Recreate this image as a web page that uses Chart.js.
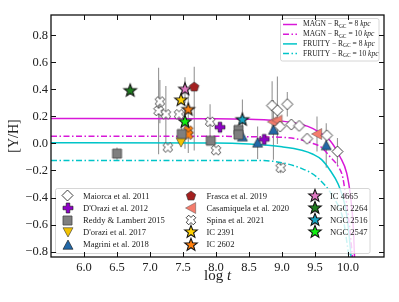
<!DOCTYPE html>
<html>
<head>
<meta charset="utf-8">
<script src="https://cdn.jsdelivr.net/npm/chart.js@4.4.1/dist/chart.umd.min.js"></script>
<style>
html, body { margin: 0; padding: 0; background: #fff; }
</style>
</head>
<body>
<canvas id="chart" width="399" height="302"></canvas>
<script>
// Axis ticks
const xTicks = [6.0, 6.5, 7.0, 7.5, 8.0, 8.5, 9.0, 9.5, 10.0];
const yTicks = [-0.8, -0.6, -0.4, -0.2, 0.0, 0.2, 0.4, 0.6, 0.8];

// Model curves: log t vs [Y/H]
const magn8LogT = [5.5, 8.0, 8.5, 9.0, 9.3, 9.47, 9.6, 9.73, 9.88, 9.98, 10.04, 10.08, 10.1];
const magn8Y = [0.185, 0.183, 0.178, 0.165, 0.14, 0.11, 0.07, 0.02, -0.10, -0.22, -0.40, -0.62, -0.86];
const magn10LogT = [5.5, 8.0, 8.5, 9.0, 9.2, 9.47, 9.6, 9.73, 9.85, 9.92, 9.98, 10.03, 10.07];
const magn10Y = [0.054, 0.053, 0.05, 0.045, 0.035, 0.0, -0.03, -0.10, -0.17, -0.25, -0.45, -0.65, -0.86];
const fruity8LogT = [5.5, 8.0, 8.5, 9.0, 9.3, 9.47, 9.6, 9.73, 9.85, 9.95, 10.0, 10.05];
const fruity8Y = [0.005, 0.003, -0.005, -0.025, -0.05, -0.08, -0.12, -0.20, -0.30, -0.45, -0.60, -0.86];
const fruity10LogT = [5.5, 8.5, 8.77, 9.02, 9.27, 9.53, 9.78, 9.93, 10.0, 10.02];
const fruity10Y = [-0.126, -0.126, -0.128, -0.145, -0.18, -0.25, -0.40, -0.57, -0.79, -0.86];

// Observations: log t, [Y/H], error (single value or [down, up])
const maiorcaLogT = [8.85, 8.93, 9.08, 8.97, 9.14, 9.26, 9.38, 9.68, 9.84];
const maiorcaY = [0.28, 0.245, 0.29, 0.125, 0.14, 0.13, 0.035, 0.06, -0.06];
const maiorcaErr = [0.18, 0.25, 0.09, 0, 0, 0, 0, 0, 0.10];

const dorazi12LogT = [8.06, 8.73];
const dorazi12Y = [0.12, 0.03];

const reddyLogT = [6.5, 7.48, 7.92, 8.34, 8.34];
const reddyY = [-0.075, 0.07, 0.02, 0.10, 0.065];
const reddyErr = [0.045, 0.06, 0, 0, 0];

const dorazi17LogT = [7.47];
const dorazi17Y = [0.01];

const magriniLogT = [8.40, 8.63, 8.87, 9.67];
const magriniY = [0.05, 0.005, 0.10, -0.015];
const magriniErr = [0, 0.12, 0.22, 0.165];

const frascaLogT = [7.67];
const frascaY = [0.417];
const frascaErr = [[0.47, 0.15]];

const casaLogT = [8.86, 8.93, 9.53];
const casaY = [0.16, 0.17, 0.07];
const casaErr = [0, 0, 0.13];

const spinaLogT = [7.15, 7.13, 7.24, 7.27, 7.44, 7.91, 8.0, 8.98];
const spinaY = [0.31, 0.24, 0.215, -0.03, 0.215, 0.16, -0.05, -0.18];
const spinaErr = [0.16, 0.32, 0.21, 0, 0, 0.13, 0, 0.04];

const ic2602xLogT = [7.58, 7.58];
const ic2602xY = [0.095, 0.065];

const ic2391LogT = [7.47];
const ic2391Y = [0.32];
const ic2602LogT = [7.58];
const ic2602Y = [0.25];
const ic2602Err = [[0.32, 0.12]];
const ic4665LogT = [7.53];
const ic4665Y = [0.40];
const ic4665Err = [[0.1, 0.09]];
const ngc2264LogT = [6.70];
const ngc2264Y = [0.39];
const ngc2264Err = [0.03];
const ngc2516LogT = [8.40];
const ngc2516Y = [0.175];
const ngc2516Err = [0.15];
const ngc2547LogT = [7.53];
const ngc2547Y = [0.16];
const ngc2547Err = [[0.2, 0.1]];

// Marker images
function shapePoints(shape, r) {
  const pts = [];
  if (shape === 'diamond') return [[0, -r], [r, 0], [0, r], [-r, 0]];
  if (shape === 'square') return [[-r, -r], [r, -r], [r, r], [-r, r]];
  if (shape === 'triUp') return [[0, -r], [r, r * 0.85], [-r, r * 0.85]];
  if (shape === 'triDown') return [[0, r], [r, -r * 0.85], [-r, -r * 0.85]];
  if (shape === 'triLeft') return [[-r, 0], [r * 0.85, -r], [r * 0.85, r]];
  if (shape === 'pentagon') {
    for (let k = 0; k < 5; k++) {
      const a = -Math.PI / 2 + k * 2 * Math.PI / 5;
      pts.push([r * Math.cos(a), r * Math.sin(a)]);
    }
    return pts;
  }
  if (shape === 'star') {
    for (let k = 0; k < 10; k++) {
      const a = -Math.PI / 2 + k * Math.PI / 5;
      const rr = k % 2 ? r * 0.42 : r;
      pts.push([rr * Math.cos(a), rr * Math.sin(a)]);
    }
    return pts;
  }
  if (shape === 'plus' || shape === 'x') {
    const a = r * 0.36;
    const base = [[-a, -r], [a, -r], [a, -a], [r, -a], [r, a], [a, a], [a, r], [-a, r], [-a, a], [-r, a], [-r, -a], [-a, -a]];
    if (shape === 'plus') return base;
    const c = Math.SQRT1_2;
    return base.map(p => [(p[0] - p[1]) * c, (p[0] + p[1]) * c]);
  }
  return pts;
}

function makeMarker(shape, r, fill, edge, lw) {
  const size = Math.ceil(2 * r + 2 * lw + 2);
  const c = document.createElement('canvas');
  c.width = size;
  c.height = size;
  const g = c.getContext('2d');
  g.translate(size / 2, size / 2);
  g.beginPath();
  shapePoints(shape, r).forEach((p, i) => i ? g.lineTo(p[0], p[1]) : g.moveTo(p[0], p[1]));
  g.closePath();
  g.fillStyle = fill;
  g.fill();
  g.lineWidth = lw;
  g.strokeStyle = edge;
  g.stroke();
  return c;
}

const pts = (xs, ys) => xs.map((x, i) => ({ x: x, y: ys[i] }));

function obs(label, xs, ys, marker, errors, inLegend) {
  return {
    type: 'scatter', label: label, data: pts(xs, ys), errors: errors || null,
    pointStyle: marker, pointRadius: 4, pointHoverRadius: 4, order: 0,
    inLegend: inLegend !== false
  };
}

function model(label, xs, ys, color, dash) {
  return {
    type: 'scatter', label: label, data: pts(xs, ys), showLine: true,
    borderColor: color, backgroundColor: color, borderWidth: 1.5, borderDash: dash,
    pointRadius: 0, cubicInterpolationMode: 'monotone', order: 10, isModel: true
  };
}

const dashDot = [6, 2.5, 1.5, 2.5];
const magColor = '#d818d8';
const cyanColor = '#00c4c8';

const datasets = [
  obs('Maiorca et al. 2011', maiorcaLogT, maiorcaY, makeMarker('diamond', 5.5, '#ffffff', '#111', 0.8), maiorcaErr),
  obs("D'Orazi et al. 2012", dorazi12LogT, dorazi12Y, makeMarker('plus', 5, '#8f00c8', '#111', 0.6)),
  obs('Reddy & Lambert 2015', reddyLogT, reddyY, makeMarker('square', 4.5, '#7f7f7f', '#444', 0.8), reddyErr),
  obs("D'orazi et al. 2017", dorazi17LogT, dorazi17Y, makeMarker('triDown', 5, '#f2c200', '#333', 0.6)),
  obs('Magrini et al. 2018', magriniLogT, magriniY, makeMarker('triUp', 5, '#2369a8', '#111', 0.6), magriniErr),
  obs('Frasca et al. 2019', frascaLogT, frascaY, makeMarker('pentagon', 5, '#a32020', '#333', 0.6), frascaErr),
  obs('Casamiquela et al. 2020', casaLogT, casaY, makeMarker('triLeft', 5.5, '#f47c6c', '#555', 0.5), casaErr),
  obs('Spina et al. 2021', spinaLogT, spinaY, makeMarker('x', 5, '#ffffff', '#111', 0.8), spinaErr),
  obs('IC 2391', ic2391LogT, ic2391Y, makeMarker('star', 6.6, '#ffd000', '#111', 1.1)),
  obs('IC 2602', ic2602LogT, ic2602Y, makeMarker('star', 6.6, '#ff7f0e', '#111', 1.1), ic2602Err),
  obs('IC 4665', ic4665LogT, ic4665Y, makeMarker('star', 6.6, '#e07ac4', '#111', 1.1), ic4665Err),
  obs('NGC 2264', ngc2264LogT, ngc2264Y, makeMarker('star', 6.6, '#1e7d1e', '#111', 1.1), ngc2264Err),
  obs('NGC 2516', ngc2516LogT, ngc2516Y, makeMarker('star', 6.6, '#17a5c4', '#111', 1.1), ngc2516Err),
  obs('NGC 2547', ngc2547LogT, ngc2547Y, makeMarker('star', 6.6, '#10f010', '#111', 1.1), ngc2547Err),
  obs('IC 2602 (Spina)', ic2602xLogT, ic2602xY, makeMarker('x', 5, '#ff7f0e', '#222', 0.7), null, false),
  model('MAGN', magn8LogT, magn8Y, magColor, []),
  model('MAGN', magn10LogT, magn10Y, magColor, dashDot),
  model('FRUITY', fruity8LogT, fruity8Y, cyanColor, []),
  model('FRUITY', fruity10LogT, fruity10Y, cyanColor, dashDot)
];
const modelRgc = ['8', '10', '8', '10'];

// Vertical error bars
const errorBars = {
  id: 'errorBars',
  beforeDatasetsDraw(chart) {
    const { ctx, chartArea: a, scales: { x, y } } = chart;
    ctx.save();
    ctx.beginPath();
    ctx.rect(a.left, a.top, a.right - a.left, a.bottom - a.top);
    ctx.clip();
    ctx.beginPath();
    ctx.strokeStyle = '#969696';
    ctx.lineWidth = 1.1;
    chart.data.datasets.forEach(ds => {
      if (!ds.errors) return;
      ds.data.forEach((p, i) => {
        const e = ds.errors[i];
        if (!e) return;
        const lo = Array.isArray(e) ? e[0] : e;
        const hi = Array.isArray(e) ? e[1] : e;
        const px = x.getPixelForValue(p.x);
        ctx.moveTo(px, y.getPixelForValue(p.y - lo));
        ctx.lineTo(px, y.getPixelForValue(p.y + hi));
      });
    });
    ctx.stroke();
    ctx.restore();
  }
};

function roundBox(ctx, x, y, w, h, r) {
  ctx.beginPath();
  ctx.moveTo(x + r, y);
  ctx.arcTo(x + w, y, x + w, y + h, r);
  ctx.arcTo(x + w, y + h, x, y + h, r);
  ctx.arcTo(x, y + h, x, y, r);
  ctx.arcTo(x, y, x + w, y, r);
  ctx.closePath();
  ctx.fillStyle = 'rgba(255,255,255,0.8)';
  ctx.fill();
  ctx.strokeStyle = '#cccccc';
  ctx.lineWidth = 0.8;
  ctx.stroke();
}

const serif = '"Liberation Serif", "DejaVu Serif", serif';

// Legends, frame, inward ticks and axis titles
const decorations = {
  id: 'decorations',
  afterDatasetsDraw(chart) {
    const { ctx, chartArea: a, scales: { x, y } } = chart;
    const all = chart.data.datasets;

    // model legend (top right)
    roundBox(ctx, 280.5, 18.5, 98.5, 42.5, 2);
    const models = all.filter(d => d.isModel);
    ctx.fillStyle = '#222';
    ctx.textBaseline = 'middle';
    models.forEach((d, i) => {
      const yy = 24.5 + i * 9.7;
      ctx.save();
      ctx.strokeStyle = d.borderColor;
      ctx.lineWidth = 1.5;
      ctx.setLineDash(d.borderDash);
      ctx.beginPath();
      ctx.moveTo(283, yy);
      ctx.lineTo(297, yy);
      ctx.stroke();
      ctx.restore();
      let tx = 303;
      ctx.font = '7.5px ' + serif;
      ctx.fillStyle = '#222';
      const t1 = d.label + ' \u2212 R';
      ctx.fillText(t1, tx, yy);
      tx += ctx.measureText(t1).width;
      ctx.font = '5.5px ' + serif;
      ctx.fillText('GC', tx, yy + 2);
      tx += ctx.measureText('GC').width;
      ctx.font = '7.5px ' + serif;
      const t2 = ' = ' + modelRgc[i] + ' ';
      ctx.fillText(t2, tx, yy);
      tx += ctx.measureText(t2).width;
      ctx.font = 'italic 7.5px ' + serif;
      ctx.fillText('kpc', tx, yy);
    });

    // data legend (bottom)
    roundBox(ctx, 55.5, 188.5, 314.5, 65, 2);
    const entries = all.filter(d => !d.isModel && d.inLegend);
    const colMarkerX = [67.5, 191, 315];
    const colTextX = [83, 206.5, 330];
    ctx.font = '8.6px ' + serif;
    entries.forEach((d, i) => {
      const col = Math.floor(i / 5);
      const row = i % 5;
      const yy = 195.8 + row * 12.2;
      const m = d.pointStyle;
      ctx.drawImage(m, Math.round(colMarkerX[col] - m.width / 2), Math.round(yy - m.height / 2));
      ctx.fillStyle = '#222';
      ctx.fillText(d.label, colTextX[col], yy + 0.5);
    });

    // frame and ticks (inward, all sides)
    ctx.save();
    ctx.strokeStyle = '#111';
    ctx.lineWidth = 1;
    ctx.beginPath();
    xTicks.forEach(v => {
      const px = Math.round(x.getPixelForValue(v)) + 0.5;
      ctx.moveTo(px, a.bottom); ctx.lineTo(px, a.bottom - 5);
      ctx.moveTo(px, a.top); ctx.lineTo(px, a.top + 5);
    });
    yTicks.forEach(v => {
      const py = Math.round(y.getPixelForValue(v)) + 0.5;
      ctx.moveTo(a.left, py); ctx.lineTo(a.left + 5, py);
      ctx.moveTo(a.right, py); ctx.lineTo(a.right - 5, py);
    });
    ctx.stroke();
    ctx.lineWidth = 1.3;
    ctx.strokeRect(a.left, a.top, a.right - a.left, a.bottom - a.top);
    ctx.restore();

    // axis titles
    ctx.save();
    ctx.fillStyle = '#222';
    ctx.textBaseline = 'alphabetic';
    ctx.font = '15px ' + serif;
    const logW = ctx.measureText('log ').width;
    ctx.font = 'italic 15px ' + serif;
    const tW = ctx.measureText('t').width;
    let sx = (a.left + a.right) / 2 - (logW + tW) / 2;
    ctx.font = '15px ' + serif;
    ctx.textAlign = 'left';
    ctx.fillText('log ', sx, 280);
    ctx.font = 'italic 15px ' + serif;
    ctx.fillText('t', sx + logW, 280);
    ctx.translate(14, (a.top + a.bottom) / 2);
    ctx.rotate(-Math.PI / 2);
    ctx.font = '14px ' + serif;
    ctx.textAlign = 'center';
    ctx.textBaseline = 'middle';
    ctx.fillText('[Y/H]', 0, 0);
    ctx.restore();
  }
};

new Chart(document.getElementById('chart'), {
  type: 'scatter',
  data: { datasets: datasets },
  options: {
    responsive: false,
    animation: false,
    events: [],
    layout: { padding: { left: 0, right: 15, top: 15, bottom: 0 } },
    plugins: { legend: { display: false }, tooltip: { enabled: false } },
    scales: {
      x: {
        type: 'linear', min: 5.5, max: 10.545,
        grid: { display: false, drawTicks: false },
        border: { display: false },
        afterBuildTicks: s => { s.ticks = xTicks.map(v => ({ value: v })); },
        afterFit: s => { s.height = 45; },
        ticks: {
          padding: 3, color: '#222', font: { family: serif, size: 12.5 },
          callback: v => v.toFixed(1)
        }
      },
      y: {
        type: 'linear', min: -0.84, max: 0.95,
        grid: { display: false, drawTicks: false },
        border: { display: false },
        afterBuildTicks: s => { s.ticks = yTicks.map(v => ({ value: v })); },
        afterFit: s => { s.width = 51; },
        ticks: {
          padding: 3, color: '#222', font: { family: serif, size: 12.5 },
          callback: v => (v < -1e-9 ? '\u2212' : '') + Math.abs(v).toFixed(1)
        }
      }
    }
  },
  plugins: [errorBars, decorations]
});
</script>
</body>
</html>
